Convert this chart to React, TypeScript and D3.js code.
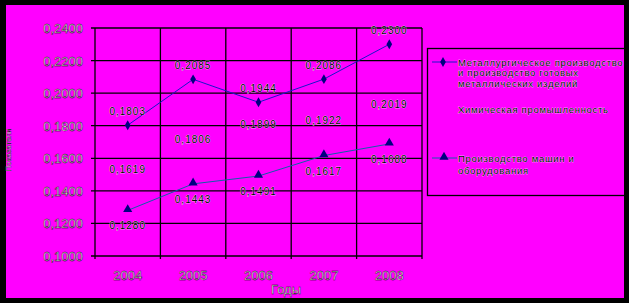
import React from "react";
import * as d3 from "d3";

const years = ["2004", "2005", "2006", "2007", "2008"];
const metal = [0.1803, 0.2085, 0.1944, 0.2086, 0.23];
const metalLabels = ["0,1803", "0,2085", "0,1944", "0,2086", "0,2300"];
const chem = [0.1619, 0.1806, 0.1899, 0.1922, 0.2019];
const chemLabels = ["0,1619", "0,1806", "0,1899", "0,1922", "0,2019"];
const mach = [0.128, 0.1443, 0.1491, 0.1617, 0.1688];
const machLabels = ["0,1280", "0,1443", "0,1491", "0,1617", "0,1688"];
const yTicks = [0.1, 0.12, 0.14, 0.16, 0.18, 0.2, 0.22, 0.24];
const yTickLabels = ["0,1000", "0,1200", "0,1400", "0,1600", "0,1800", "0,2000", "0,2200", "0,2400"];
const legendNames = [
  ["Металлургическое производство", "и производство готовых", "металлических изделий"],
  ["Химическая промышленность"],
  ["Производство машин и", "оборудования"],
];

const W = 629, H = 303;
const left = 95, right = 422, top = 28, bottom = 256;

export default function App() {
  const x = d3.scaleBand().domain(years).range([left, right]);
  const y = d3.scaleLinear().domain([0.1, 0.24]).range([bottom, top]);
  const cx = (i: number) => (x(years[i]) as number) + x.bandwidth() / 2;
  const line = d3.line<number>().x((_, i) => cx(i)).y((d) => y(d));
  const diamond = d3.symbol().type(d3.symbolDiamond).size(28)();
  const tri = d3.symbol().type(d3.symbolTriangle).size(36)();
  const font = "Arial, 'Liberation Sans', sans-serif";
  const lab = { fontFamily: font, fontSize: 10, letterSpacing: 1, fill: "#000", stroke: "#fff", strokeWidth: 0.5, paintOrder: "stroke" } as any;
  const leg = { ...lab, letterSpacing: 0.7, fontSize: 9.5 };
  const tickTxt = { fontFamily: font, fontSize: 13, fill: "#fff", stroke: "#000", strokeWidth: 0.4 } as any;

  return (
    <svg width={W} height={H} style={{ position: "absolute", left: 0, top: 0 }}>
      <rect x={0} y={0} width={W} height={H} fill="#000" />
      <rect x={6} y={5} width={618} height={293} fill="#FF00FF" />
      {yTicks.map((t) => (
        <line key={t} x1={left - 4} x2={right} y1={y(t)} y2={y(t)} stroke="#000" strokeWidth={1.3} />
      ))}
      {years.map((yr) => (
        <line key={yr} x1={(x(yr) as number) + x.bandwidth()} x2={(x(yr) as number) + x.bandwidth()} y1={top} y2={bottom + 3} stroke="#000" strokeWidth={1.3} />
      ))}
      <line x1={left} x2={left} y1={top} y2={bottom + 3} stroke="#000" strokeWidth={1.3} />
      {yTicks.map((t, i) => (
        <text key={t} x={83} y={y(t) + 5} textAnchor="end" style={tickTxt}>{yTickLabels[i]}</text>
      ))}
      {years.map((yr, i) => (
        <text key={yr} x={cx(i)} y={280} textAnchor="middle" style={tickTxt}>{yr}</text>
      ))}
      <text x={271} y={294} style={tickTxt}>Годы</text>
      <text transform="translate(11,150) rotate(-90)" textAnchor="middle" style={{ fontFamily: font, fontSize: 8, fill: "#fff", stroke: "#000", strokeWidth: 0.3 }}>Показатели</text>
      <path d={line(metal) as string} fill="none" stroke="#1818C8" strokeWidth={1} />
      <path d={line(mach) as string} fill="none" stroke="#1060A8" strokeWidth={1} />
      {metal.map((v, i) => (
        <path key={i} d={diamond as string} transform={`translate(${cx(i)},${y(v)})`} fill="#000080" />
      ))}
      {mach.map((v, i) => (
        <path key={i} d={tri as string} transform={`translate(${cx(i)},${y(v) - 1})`} fill="#000080" />
      ))}
      {metal.map((v, i) => (
        <text key={i} x={cx(i)} y={y(v) - 10} textAnchor="middle" style={lab}>{metalLabels[i]}</text>
      ))}
      {chem.map((v, i) => (
        <text key={i} x={cx(i)} y={y(v) + 18} textAnchor="middle" style={lab}>{chemLabels[i]}</text>
      ))}
      {mach.map((v, i) => (
        <text key={i} x={cx(i)} y={y(v) + 19} textAnchor="middle" style={lab}>{machLabels[i]}</text>
      ))}
      <rect x={427.5} y={48.5} width={200} height={147} fill="none" stroke="#000" strokeWidth={1.3} />
      <rect x={624} y={0} width={5} height={H} fill="#000" />
      <line x1={432} x2={457} y1={62} y2={62} stroke="#1818C8" />
      <path d={diamond as string} transform="translate(443,62)" fill="#000080" />
      <line x1={432} x2={457} y1={158} y2={158} stroke="#1060A8" />
      <path d={tri as string} transform="translate(444,157)" fill="#000080" />
      {legendNames[0].map((s, i) => (
        <text key={i} x={458} y={65.5 + i * 10.7} style={leg}>{s}</text>
      ))}
      <text x={458} y={112.5} style={leg}>{legendNames[1][0]}</text>
      {legendNames[2].map((s, i) => (
        <text key={i} x={458} y={161.5 + i * 12} style={leg}>{s}</text>
      ))}
    </svg>
  );
}
